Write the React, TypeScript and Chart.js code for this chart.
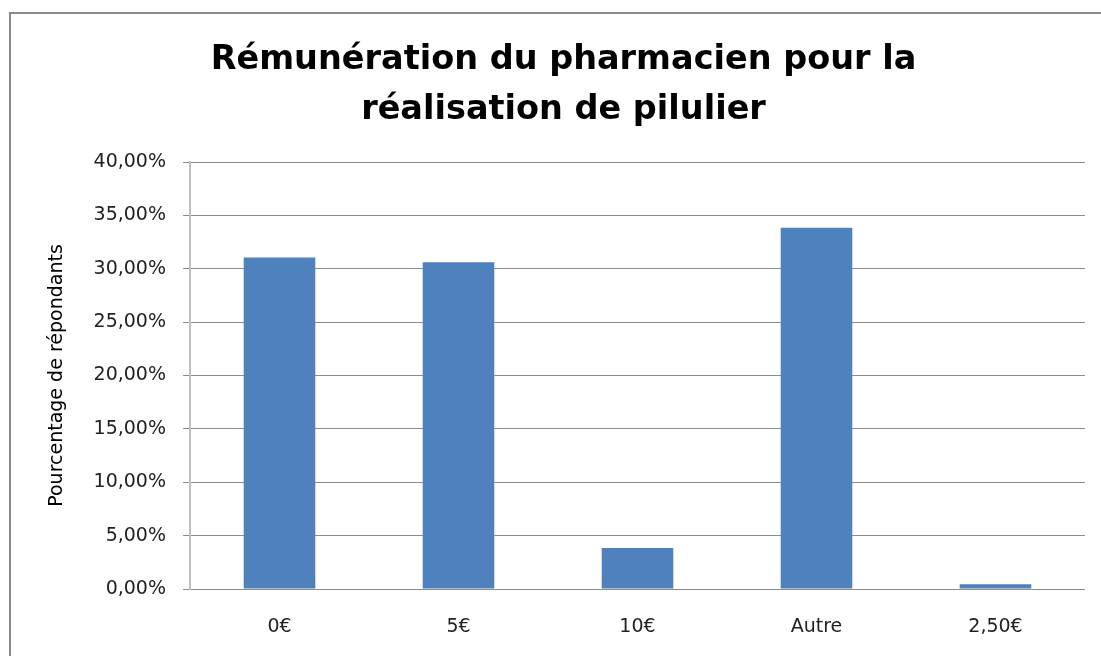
import React, { useEffect, useRef } from "react";
import { Chart, registerables } from "chart.js";

Chart.register(...registerables);

const categories = ["0€", "5€", "10€", "Autre", "2,50€"];
const percentages = [31.05, 30.6, 3.85, 33.85, 0.45];
const yTicks = { min: 0, max: 40, step: 5 };
const titleLines = ["Rémunération du pharmacien pour la", "réalisation de pilulier"];
const yTitle = "Pourcentage de répondants";

const FONT = "'DejaVu Sans', 'Noto Sans', sans-serif";

export default function App() {
  const ref = useRef<HTMLCanvasElement | null>(null);

  useEffect(() => {
    if (!ref.current) return;
    const chart = new Chart(ref.current, {
      type: "bar",
      data: {
        labels: categories,
        datasets: [
          {
            data: percentages,
            backgroundColor: "#4F81BD",
            borderWidth: 0,
            categoryPercentage: 0.8,
            barPercentage: 0.5,
          },
        ],
      },
      options: {
        animation: false,
        responsive: false,
        maintainAspectRatio: false,
        layout: { padding: { left: 42, right: 16, top: 0, bottom: 0 } },
        plugins: {
          legend: { display: false },
          tooltip: { enabled: false },
          title: {
            display: true,
            text: titleLines,
            color: "#000",
            font: { family: FONT, size: 33.5, weight: "bold", lineHeight: "50px" as any },
            padding: { top: 35, bottom: 27 },
          },
        },
        scales: {
          x: {
            afterFit: (scale: any) => {
              scale.height = 67;
            },
            grid: { display: false },
            border: { display: false },
            ticks: {
              color: "#222",
              font: { family: FONT, size: 19 },
              padding: 19,
            },
          },
          y: {
            min: yTicks.min,
            max: yTicks.max,
            afterFit: (scale: any) => {
              scale.width = 148;
            },
            ticks: {
              stepSize: yTicks.step,
              color: "#222",
              font: { family: FONT, size: 19 },
              padding: 17,
              callback: (v: any) => Number(v).toFixed(2).replace(".", ",") + "%",
            },
            grid: {
              color: "#8c8c8c",
              lineWidth: 1,
              tickLength: 7,
            },
            border: { display: true, color: "#bfbfbf", width: 2 },
            title: {
              display: true,
              text: yTitle,
              color: "#000",
              font: { family: FONT, size: 19 },
              padding: { top: 4, bottom: 4 },
            },
          },
        },
      },
    });
    return () => chart.destroy();
  }, []);

  return (
    <div
      style={{
        position: "fixed",
        left: 0,
        top: 0,
        width: 1101,
        height: 656,
        background: "#fff",
        overflow: "hidden",
      }}
    >
      <div
        style={{
          position: "absolute",
          left: 9,
          top: 12,
          width: 1200,
          height: 800,
          border: "2px solid #8a8a8a",
        }}
      />
      <canvas
        ref={ref}
        width={1101}
        height={656}
        style={{ position: "absolute", left: 0, top: 0, width: 1101, height: 656 }}
      />
    </div>
  );
}
